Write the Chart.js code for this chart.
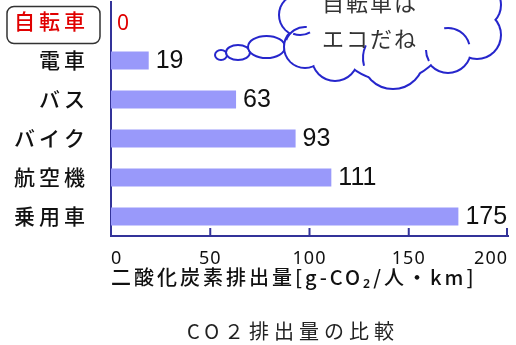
<!DOCTYPE html>
<html><head><meta charset="utf-8">
<script src="https://cdn.jsdelivr.net/npm/chart.js@4/dist/chart.umd.min.js"></script>
<style>html,body{margin:0;padding:0;background:#fff}#wrap{width:516px;height:345px}</style>
</head><body><div id="wrap"><canvas id="c" width="516" height="345"></canvas></div>
<script>
const categories = ['自転車','電車','バス','バイク','航空機','乗用車'];
const emissions = [0, 19, 63, 93, 111, 175];
const xTicks = [0, 50, 100, 150, 200];
const axisTitle = '二酸化炭素排出量[g-CO₂/人・km]';
const chartTitle = 'CO２排出量の比較';
const bubbleLines = ['自転車は', 'エコだね'];

const JP = '"Noto Sans CJK JP", "Noto Sans", sans-serif';
const AXIS = '#333399';
const RED = '#e00000';
const CLOUD = '#2626cc';

function wrapSpacing(chart, scale, fn, spacing) {
  const key = '_ls_' + fn;
  if (scale[key]) return;
  const orig = scale[fn].bind(scale);
  scale[fn] = function (a) {
    chart.ctx.save();
    chart.ctx.letterSpacing = spacing;
    orig(a);
    chart.ctx.restore();
  };
  scale[key] = true;
}

const spacingPlugin = {
  id: 'spacing',
  afterUpdate(chart) {
    wrapSpacing(chart, chart.scales.y, 'drawLabels', '4px');
    wrapSpacing(chart, chart.scales.x, 'drawLabels', '1px');
    wrapSpacing(chart, chart.scales.x, 'drawTitle', '3px');
  },
  beforeDraw(chart) {
    const ctx = chart.ctx;
    ctx.save(); ctx.fillStyle = '#fff'; ctx.fillRect(0, 0, chart.width, chart.height); ctx.restore();
  }
};

const deg = d => d * Math.PI / 180;

const decoPlugin = {
  id: 'deco',
  afterDatasetsDraw(chart) {
    const ctx = chart.ctx;
    const meta = chart.getDatasetMeta(0);
    ctx.save();
    ctx.textBaseline = 'middle';
    ctx.textAlign = 'left';
    meta.data.forEach((el, i) => {
      const v = emissions[i];
      if (v === 0) {
        ctx.font = '21px "Noto Sans", sans-serif';
        ctx.fillStyle = RED;
        ctx.fillText(String(v), el.x + 6, el.y + 3);
      } else {
        ctx.font = '25px "Liberation Sans Narrow", "Liberation Sans", sans-serif';
        ctx.fillStyle = '#111';
        ctx.fillText(String(v), el.x + 7, el.y + 1);
      }
    });
    ctx.restore();
  },
  afterDraw(chart) {
    const ctx = chart.ctx;
    const xs = chart.scales.x, ys = chart.scales.y;
    const ca = chart.chartArea;
    ctx.save();
    // inward tick marks on x axis
    ctx.strokeStyle = AXIS; ctx.lineWidth = 2;
    xTicks.forEach(v => {
      if (v === 0) return;
      const px = Math.min(xs.getPixelForValue(v), ca.right - 1);
      ctx.beginPath(); ctx.moveTo(px, ca.bottom); ctx.lineTo(px, ca.bottom - 8); ctx.stroke();
    });
    // box around first category label
    const y0 = ys.getPixelForTick(0);
    ctx.strokeStyle = '#333'; ctx.lineWidth = 1.5;
    ctx.beginPath();
    ctx.roundRect(7, y0 - 15, ca.left - 18, 37, 7);
    ctx.stroke();
    // chart title
    ctx.letterSpacing = '5px';
    ctx.font = '20px ' + JP;
    ctx.fillStyle = '#222';
    ctx.textAlign = 'center'; ctx.textBaseline = 'middle';
    ctx.fillText(chartTitle, 293, 331);
    // thought bubble
    ctx.letterSpacing = '0px';
    ctx.lineWidth = 2; ctx.strokeStyle = CLOUD; ctx.fillStyle = '#fff';
    [[221, 55, 6, 5], [238, 52.5, 12, 7.5], [266.5, 47, 18.5, 11]].forEach(([x, y, rx, ry]) => {
      ctx.beginPath(); ctx.ellipse(x, y, rx, ry, 0, 0, Math.PI * 2); ctx.fill(); ctx.stroke();
    });
    const circles = [[300, 15, 20], [305, 47, 20], [335, 58, 22], [393, 58, 30], [448, 50, 22],
      [477, 35, 23], [478, 5, 22], [390, 20, 60], [330, 10, 35], [440, 15, 35]];
    ctx.lineWidth = 4;
    circles.forEach(([x, y, r]) => { ctx.beginPath(); ctx.arc(x, y, r, 0, Math.PI * 2); ctx.stroke(); });
    circles.forEach(([x, y, r]) => { ctx.beginPath(); ctx.arc(x, y, r, 0, Math.PI * 2); ctx.fill(); });
    // inner hooks of the cloud lobes
    ctx.lineWidth = 2;
    [[305, 47, 20, 200, 275], [448, 50, 22, -100, -15], [393, 58, 30, 165, 205], [448, 50, 22, 150, 180],
     [300, 15, 20, 60, 110]].forEach(([x, y, r, a0, a1]) => {
      ctx.beginPath(); ctx.arc(x, y, r, deg(a0), deg(a1)); ctx.stroke();
    });
    ctx.fillStyle = '#333';
    ctx.letterSpacing = '2px';
    ctx.font = '22px ' + JP;
    ctx.textAlign = 'left'; ctx.textBaseline = 'middle';
    ctx.fillText(bubbleLines[0], 322, 3);
    ctx.fillText(bubbleLines[1], 322, 39);
    ctx.restore();
  }
};

new Chart(document.getElementById('c'), {
  type: 'bar',
  data: {
    labels: categories,
    datasets: [{
      data: emissions,
      backgroundColor: '#9999fa',
      borderWidth: 0,
      barPercentage: 0.46,
      categoryPercentage: 1
    }]
  },
  options: {
    indexAxis: 'y',
    responsive: false,
    animation: false,
    events: [],
    layout: { padding: { top: 2, right: 8, bottom: 49, left: 0 } },
    plugins: { legend: { display: false }, tooltip: { enabled: false }, title: { display: false } },
    scales: {
      x: {
        min: 0, max: 200,
        afterBuildTicks: s => { s.ticks = xTicks.map(v => ({ value: v })); },
        afterFit: s => { s.height = 60; s.paddingLeft = 0; s.paddingRight = 0; },
        grid: { display: false, drawTicks: false },
        border: { display: true, color: AXIS, width: 2 },
        ticks: {
          align: 'inner', padding: 12, color: '#111',
          font: { family: '"Noto Sans", sans-serif', size: 18 }
        },
        title: {
          display: true, text: axisTitle, align: 'start', color: '#111',
          font: { family: JP, size: 20, weight: '500' }, padding: { top: 0, bottom: 7 }
        }
      },
      y: {
        afterFit: s => { s.width = 111; s.paddingTop = 0; s.paddingBottom = 0; },
        grid: { display: false, drawTicks: false },
        border: { display: true, color: AXIS, width: 2 },
        ticks: {
          padding: 22,
          color: ctx => ctx.index === 0 ? RED : '#111',
          font: { family: JP, size: 21, weight: '500' }
        }
      }
    }
  },
  plugins: [spacingPlugin, decoPlugin]
});
</script>
</body></html>
